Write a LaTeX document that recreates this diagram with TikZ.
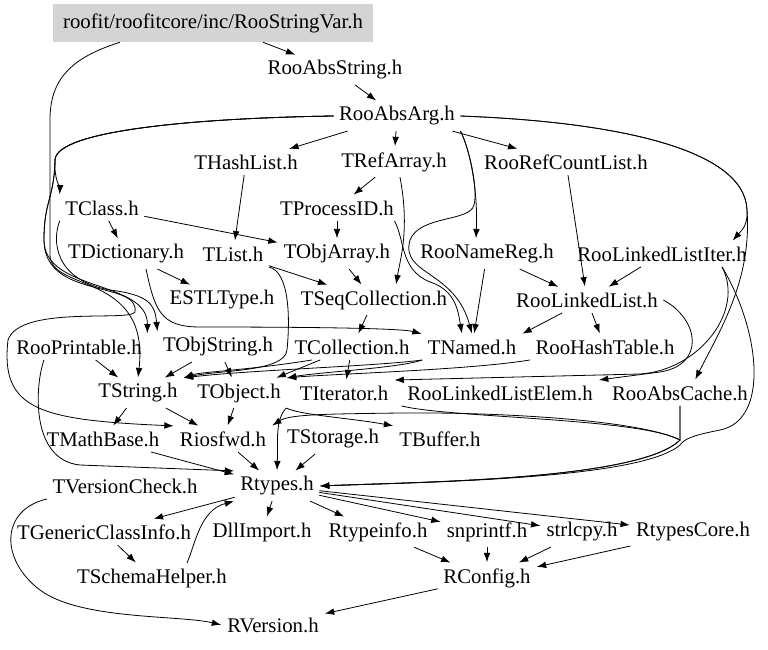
\documentclass[tikz,border=0pt]{standalone}
\usepackage{fontspec}
\setmainfont{Liberation Serif}
\usetikzlibrary{arrows.meta,calc}
\tikzset{
	hdr/.style={fill=black!17, minimum width=240pt, minimum height=28.5pt, inner sep=0pt, font=\fontsize{15.6}{18}\selectfont},
	file/.style={inner sep=4pt, font=\fontsize{15.6}{18}\selectfont},
	dep/.style={-{Latex[length=7pt,width=5pt]}, line width=0.6pt, shorten >=0.5pt}
}

\begin{document}
\begin{tikzpicture}[x=0.75pt,y=-0.75pt]
		%%%%% START %%%%%
		\useasboundingbox (0,0) rectangle (768,650);
		
		\node[hdr] (vstr) at (213,23) {roofit/roofitcore/inc/RooStringVar.h};
		\node[file] (absstr) at (335,70) {RooAbsString.h};
		\node[file] (absarg) at (397,116) {RooAbsArg.h};
		
		\node[file] (thash) at (246,162) {THashList.h};
		\node[file] (trefarr) at (394,162) {TRefArray.h};
		\node[file] (refcount) at (566,162) {RooRefCountList.h};
		\node[file] (tclass) at (102,208) {TClass.h};
		\node[file] (tprocid) at (337,208) {TProcessID.h};
		
		\node[file] (tdict) at (126,254) {TDictionary.h};
		\node[file] (tlist) at (233,254) {TList.h};
		\node[file] (tobjarr) at (337,254) {TObjArray.h};
		\node[file] (namereg) at (487,254) {RooNameReg.h};
		\node[file] (lliter) at (662,254) {RooLinkedListIter.h};
		\node[file] (estl) at (222,300) {ESTLType.h};
		\node[file] (tseqcoll) at (374,300) {TSeqCollection.h};
		\node[file] (rll) at (587,300) {RooLinkedList.h};
		
		\node[file] (printable) at (79,347) {RooPrintable.h};
		\node[file] (tobjstr) at (218,347) {TObjString.h};
		\node[file] (tcoll) at (352,347) {TCollection.h};
		\node[file] (tnamed) at (472,347) {TNamed.h};
		\node[file] (roohash) at (605,347) {RooHashTable.h};
		\node[file] (tstring) at (138,393) {TString.h};
		\node[file] (tobject) at (239,393) {TObject.h};
		\node[file] (titer) at (344,393) {TIterator.h};
		\node[file] (rllelem) at (500,393) {RooLinkedListElem.h};
		\node[file] (abscache) at (680,393) {RooAbsCache.h};
		
		\node[file] (tmath) at (103,439) {TMathBase.h};
		\node[file] (riosfwd) at (223,439) {Riosfwd.h};
		\node[file] (tstorage) at (333,439) {TStorage.h};
		\node[file] (tbuffer) at (440,439) {TBuffer.h};
		\node[file] (tversion) at (125,486) {TVersionCheck.h};
		\node[file] (rtypes) at (277,486) {Rtypes.h};
		
		\node[file] (tgeneric) at (104,532) {TGenericClassInfo.h};
		\node[file] (dllimport) at (262,532) {DllImport.h};
		\node[file] (rtypeinfo) at (378,532) {Rtypeinfo.h};
		\node[file] (snprintf) at (487,532) {snprintf.h};
		\node[file] (strlcpy) at (582,532) {strlcpy.h};
		\node[file] (rtypescore) at (693,532) {RtypesCore.h};
		\node[file] (tschema) at (152,578) {TSchemaHelper.h};
		\node[file] (rconfig) at (487,578) {RConfig.h};
		\node[file] (rversion) at (273,625) {RVersion.h};
		
		% top rows
		\draw[dep] (vstr) -- (absstr);
		\draw[dep] ($(vstr.south)+(-93,0)$) .. controls (70,58) and (50,80) .. (50,120) -- (50,255) .. controls (50,292) and (150,272) .. (tstring.north);
		\draw[dep] (absstr) -- (absarg);
		\draw[dep] (absarg) -- (thash);
		\draw[dep] (absarg) -- (trefarr);
		\draw[dep] (absarg) -- (refcount);
		\draw[dep] (absarg.west) .. controls (200,118) and (56,130) .. (55,160) .. controls (54,180) and (60,188) .. (tclass.north west);
		\draw[dep] (absarg.west) .. controls (200,118) and (56,130) .. (55,160) .. controls (54,200) and (44,200) .. (44,240) .. controls (44,292) and (148,280) .. (printable.north east);
		\draw[dep] (absarg.west) .. controls (200,118) and (56,130) .. (55,160) .. controls (54,200) and (44,200) .. (44,240) .. controls (44,300) and (140,280) .. (135,312) .. controls (130,322) and (20,305) .. (8,340) .. controls (0,410) and (40,420) .. (riosfwd.north west);
		\draw[dep] (absarg.south east) .. controls (470,150) and (478,190) .. ($(namereg.north)+(-11,0)$);
		\draw[dep] (absarg.south east) .. controls (470,150) and (478,190) .. (474,205) .. controls (470,222) and (420,215) .. (410,240) .. controls (400,275) and (455,270) .. (tnamed.north);
		\draw[dep] (absarg.east) .. controls (620,122) and (745,150) .. (747,210) .. controls (748,225) and (742,230) .. ($(lliter.north east)+(-20,0)$);
		\draw[dep] (absarg.east) .. controls (620,122) and (745,150) .. (747,210) .. controls (752,280) and (720,330) .. ($(abscache.north)+(15,0)$);
		
		\draw[dep] (thash) -- (tlist);
		\draw[dep] (trefarr) -- (tprocid);
		\draw[dep] ($(trefarr.south)+(6,0)$) .. controls (410,230) and (400,260) .. ($(tseqcoll.north)+(22,0)$);
		\draw[dep] (tclass) -- (tdict);
		\draw[dep] (tclass) -- (tobjarr);
		\draw[dep] (tclass.south west) .. controls (52,240) and (54,280) .. (110,290) .. controls (150,295) and (155,305) .. (tobjstr.north west);
		\draw[dep] (tprocid) -- (tobjarr);
		\draw[dep] ($(tprocid.south east)+(-5,0)$) .. controls (405,240) and (400,270) .. (430,282) .. controls (455,290) and (458,310) .. ($(tnamed.north)+(-10,0)$);
		
		% middle rows
		\draw[dep] (tdict) -- (estl);
		\draw[dep] ($(tdict.south)+(20,0)$) .. controls (155,310) and (160,327) .. (200,327) .. controls (300,327) and (400,328) .. (tnamed.north west);
		\draw[dep] (tlist) -- (tseqcoll);
		\draw[dep] (tlist.south east) .. controls (290,272) and (290,320) .. (287,350) .. controls (285,372) and (220,370) .. (tstring.north east);
		\draw[dep] (tobjarr) -- (tseqcoll);
		\draw[dep] (tseqcoll) -- (tcoll);
		\draw[dep] (namereg) -- (rll);
		\draw[dep] (namereg) -- (tnamed);
		\draw[dep] (refcount) -- (rll);
		\draw[dep] (lliter) -- (rll);
		\draw[dep] ($(lliter.south)+(60,0)$) .. controls (745,310) and (700,370) .. (640,374) -- (titer.north east);
		\draw[dep] ($(lliter.south)+(60,0)$) .. controls (760,330) and (770,420) .. (720,430) .. controls (695,435) and (685,438) .. (680,445) .. controls (640,480) and (420,482) .. (rtypes.east);
		\draw[dep] (rll) -- (roohash);
		\draw[dep] (rll) -- (tnamed.north east);
		\draw[dep] (rll.east) .. controls (700,320) and (705,365) .. (660,372) -- (rllelem.north east);
		
		\draw[dep] (printable) -- (tstring);
		\draw[dep] ($(printable.south)+(-35,0)$) .. controls (35,385) and (30,460) .. (80,465) -- (rtypes.north west);
		\draw[dep] (tobjstr) -- (tstring);
		\draw[dep] (tobjstr) -- (tobject);
		\draw[dep] ($(tcoll.south)+(-40,0)$) .. controls (250,370) and (200,372) .. (tstring.north east);
		\draw[dep] (tcoll) -- (tobject);
		\draw[dep] (tcoll) -- (titer);
		\draw[dep] (tnamed.south west) .. controls (400,368) and (320,372) .. (tobject.north east);
		\draw[dep] (tnamed.south west) .. controls (380,366) and (250,370) .. (tstring.north east);
		\draw[dep] (roohash.south west) .. controls (470,370) and (330,374) .. (tobject.north east);
		
		% lower rows
		\draw[dep] (tstring) -- (tmath);
		\draw[dep] (tstring) -- (riosfwd);
		\draw[dep] (tobject) -- (riosfwd);
		\draw[dep] (tobject.south east) .. controls (275,420) and (278,440) .. (rtypes.north);
		\draw[dep] (tobject.south east) .. controls (300,415) and (350,418) .. (tbuffer.north west);
		\draw[dep] (abscache.south) -- (680,440) .. controls (640,420) and (500,412) .. (400,413) .. controls (330,414) and (290,414) .. (riosfwd.north east);
		\draw[dep] (abscache.south) -- (680,440) .. controls (640,480) and (420,482) .. (rtypes.east);
		\draw[dep] (rllelem.south west) .. controls (450,418) and (640,418) .. (680,440) .. controls (640,480) and (420,482) .. (rtypes.east);
		\draw[dep] (tmath) -- (rtypes);
		\draw[dep] (riosfwd) -- (rtypes);
		\draw[dep] (tstorage) -- (rtypes);
		
		\draw[dep] (rtypes) -- (tgeneric);
		\draw[dep] (rtypes) -- (dllimport);
		\draw[dep] (rtypes) -- (rtypeinfo);
		\draw[dep] (rtypes) -- (snprintf);
		\draw[dep] (rtypes) -- (strlcpy);
		\draw[dep] (rtypes) -- (rtypescore);
		\draw[dep] (tgeneric) -- (tschema);
		\draw[dep] ($(tschema.north)+(35,0)$) .. controls (195,545) and (200,510) .. (rtypes.south west);
		\draw[dep] (rtypeinfo) -- (rconfig);
		\draw[dep] (snprintf) -- (rconfig);
		\draw[dep] (strlcpy) -- (rconfig);
		\draw[dep] (rtypescore) -- (rconfig);
		\draw[dep] (rconfig) -- (rversion);
		\draw[dep] (tversion.south west) .. controls (0,510) and (0,560) .. (40,590) .. controls (80,620) and (180,615) .. (rversion.west);
		
		%%%%% END %%%%%
\end{tikzpicture}
\end{document}
